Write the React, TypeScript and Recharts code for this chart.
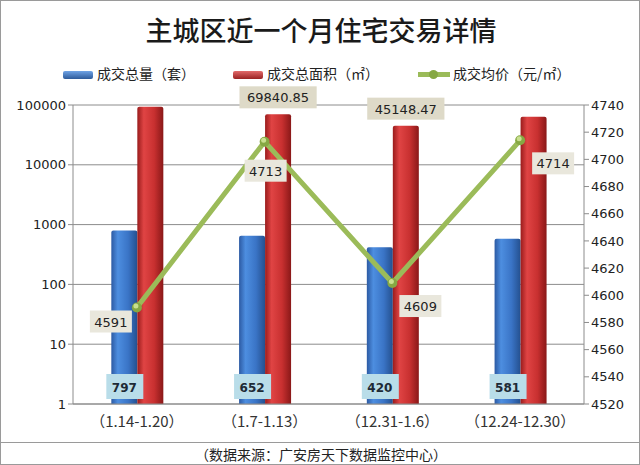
import { ComposedChart, Bar, Line, XAxis, YAxis, CartesianGrid, LabelList } from 'recharts';

const periods = ['（1.14-1.20）', '（1.7-1.13）', '（12.31-1.6）', '（12.24-12.30）'];
const dealCount = [797, 652, 420, 581];
const dealArea = [93500, 69840.85, 45148.47, 63800];
const areaLabelShown = [false, true, true, false];
const avgPrice = [4591, 4713, 4609, 4714];

const countTicks = [1, 10, 100, 1000, 10000, 100000];
const priceTicks = [4520, 4540, 4560, 4580, 4600, 4620, 4640, 4660, 4680, 4700, 4720, 4740];

// where each price label box sits relative to its point
const priceLabelOffset = [
  { dx: -47, dy: 3 },
  { dx: -20, dy: 18 },
  { dx: 7, dy: 12 },
  { dx: 12, dy: 12 },
];

const chartData = periods.map((period, i) => ({
  period,
  count: dealCount[i],
  area: dealArea[i],
  price: avgPrice[i],
}));

const CJK = '"Noto Sans CJK SC", "Noto Sans", sans-serif';
const NUM = '"DejaVu Sans", Verdana, sans-serif';

function CountLabel(props: any) {
  const { x, y, width, height, value } = props;
  const cx = x + width / 2;
  const bottom = y + height;
  return (
    <g>
      <rect x={cx - 18} y={bottom - 30} width={37} height={25} fill="#b9dde9" />
      <text x={cx} y={bottom - 12} textAnchor="middle" fontFamily={NUM} fontSize={12} fontWeight="bold" fill="#1d2a36">
        {value}
      </text>
    </g>
  );
}

function AreaLabel(props: any) {
  const { x, y, width, value, index } = props;
  if (!areaLabelShown[index]) return null;
  const cx = x + width / 2;
  const text = Number(value).toFixed(2);
  const w = text.length * 8.4 + 10;
  return (
    <g>
      <rect x={cx - w / 2} y={y - 28} width={w} height={22} fill="#dedac8" />
      <text x={cx} y={y - 12} textAnchor="middle" fontFamily={NUM} fontSize={13} fill="#222">
        {text}
      </text>
    </g>
  );
}

function PriceLabel(props: any) {
  const { x, y, value, index } = props;
  const off = priceLabelOffset[index];
  const bx = x + off.dx;
  const by = y + off.dy;
  return (
    <g>
      <rect x={bx} y={by} width={42} height={22} fill="#e9e7dc" />
      <text x={bx + 21} y={by + 16} textAnchor="middle" fontFamily={NUM} fontSize={13} fill="#222">
        {value}
      </text>
    </g>
  );
}

function PriceDot(props: any) {
  const { cx, cy } = props;
  return (
    <g>
      <circle cx={cx} cy={cy} r={5} fill="#86a843" />
      <circle cx={cx - 1} cy={cy - 1.5} r={2.5} fill="#c9e08f" />
    </g>
  );
}

function LegendSwatch({ from, to }: { from: string; to: string }) {
  return (
    <span
      style={{
        display: 'inline-block',
        width: 30,
        height: 8,
        background: `linear-gradient(${from}, ${to})`,
        borderRadius: 2,
        marginRight: 4,
        verticalAlign: 'middle',
      }}
    />
  );
}

export default function App() {
  return (
    <div
      style={{
        position: 'absolute',
        left: 0,
        top: 0,
        width: 640,
        height: 465,
        background: '#fff',
        boxSizing: 'border-box',
        border: '1px solid #9a9a9a',
        overflow: 'hidden',
      }}
    >
      <div
        style={{
          position: 'absolute',
          top: 9,
          left: 0,
          width: 640,
          textAlign: 'center',
          fontFamily: CJK,
          fontSize: 27,
          fontWeight: 500,
          color: '#1a1a1a',
        }}
      >
        主城区近一个月住宅交易详情
      </div>
      <div
        style={{
          position: 'absolute',
          top: 62,
          left: 0,
          fontFamily: CJK,
          fontSize: 14,
          color: '#222',
          whiteSpace: 'nowrap',
        }}
      >
        <span style={{ position: 'absolute', left: 62 }}>
          <LegendSwatch from="#6fa3e6" to="#2d5a9a" />
          成交总量（套）
        </span>
        <span style={{ position: 'absolute', left: 232 }}>
          <LegendSwatch from="#e26a6a" to="#9a2222" />
          成交总面积（㎡）
        </span>
        <span style={{ position: 'absolute', left: 417 }}>
          <span style={{ position: 'relative', display: 'inline-block', width: 32, height: 8, marginRight: 3, verticalAlign: 'middle' }}>
            <span style={{ position: 'absolute', left: 0, top: 1, width: 32, height: 5, background: '#9bbb59' }} />
            <span style={{ position: 'absolute', left: 11, top: -1, width: 9, height: 9, borderRadius: 5, background: '#86a843' }} />
          </span>
          成交均价（元/㎡）
        </span>
      </div>
      <ComposedChart
        width={640}
        height={440}
        data={chartData}
        margin={{ top: 104, right: 0, bottom: 7, left: 0 }}
        barGap={0}
        barCategoryGap="30%"
      >
        <defs>
          <linearGradient id="blueBar" x1="0" y1="0" x2="1" y2="0">
            <stop offset="0%" stopColor="#2c5aa3" />
            <stop offset="25%" stopColor="#4d8ee0" />
            <stop offset="65%" stopColor="#3a74c6" />
            <stop offset="100%" stopColor="#24508f" />
          </linearGradient>
          <linearGradient id="redBar" x1="0" y1="0" x2="1" y2="0">
            <stop offset="0%" stopColor="#9a1c1c" />
            <stop offset="25%" stopColor="#e04444" />
            <stop offset="65%" stopColor="#c83030" />
            <stop offset="100%" stopColor="#8a1818" />
          </linearGradient>
        </defs>
        <CartesianGrid vertical={false} stroke="#8c8c8c" yAxisId="count" />
        <XAxis
          dataKey="period"
          height={30}
          tickLine={{ stroke: '#8c8c8c' }}
          axisLine={{ stroke: '#8c8c8c' }}
          tick={{ fill: '#333', fontSize: 15, fontFamily: CJK }}
          tickSize={0}
          tickMargin={12}
          interval={0}
        />
        <YAxis
          yAxisId="count"
          scale="log"
          domain={[1, 100000]}
          ticks={countTicks}
          allowDataOverflow
          width={72}
          axisLine={{ stroke: '#8c8c8c' }}
          tickLine={{ stroke: '#8c8c8c' }}
          tickSize={5}
          tick={{ fill: '#222', fontSize: 13, fontFamily: NUM }}
        />
        <YAxis
          yAxisId="price"
          orientation="right"
          domain={[4520, 4740]}
          ticks={priceTicks}
          allowDataOverflow
          width={57}
          axisLine={{ stroke: '#8c8c8c' }}
          tickLine={{ stroke: '#8c8c8c' }}
          tickSize={5}
          tick={{ fill: '#222', fontSize: 13, fontFamily: NUM }}
        />
        <Bar dataKey="count" yAxisId="count" fill="url(#blueBar)" isAnimationActive={false} radius={[2, 2, 0, 0]}>
          <LabelList dataKey="count" content={CountLabel} />
        </Bar>
        <Bar dataKey="area" yAxisId="count" fill="url(#redBar)" isAnimationActive={false} radius={[2, 2, 0, 0]}>
          <LabelList dataKey="area" content={AreaLabel} />
        </Bar>
        <Line
          dataKey="price"
          yAxisId="price"
          stroke="#9bbb59"
          strokeWidth={5}
          dot={<PriceDot />}
          activeDot={false}
          isAnimationActive={false}
        >
          <LabelList dataKey="price" content={PriceLabel} />
        </Line>
      </ComposedChart>
      <div style={{ position: 'absolute', left: 0, top: 441, width: 640, borderTop: '1px solid #9a9a9a' }} />
      <div
        style={{
          position: 'absolute',
          top: 443,
          left: 0,
          width: 640,
          textAlign: 'center',
          fontFamily: CJK,
          fontSize: 14,
          color: '#222',
        }}
      >
        （数据来源：广安房天下数据监控中心）
      </div>
    </div>
  );
}
